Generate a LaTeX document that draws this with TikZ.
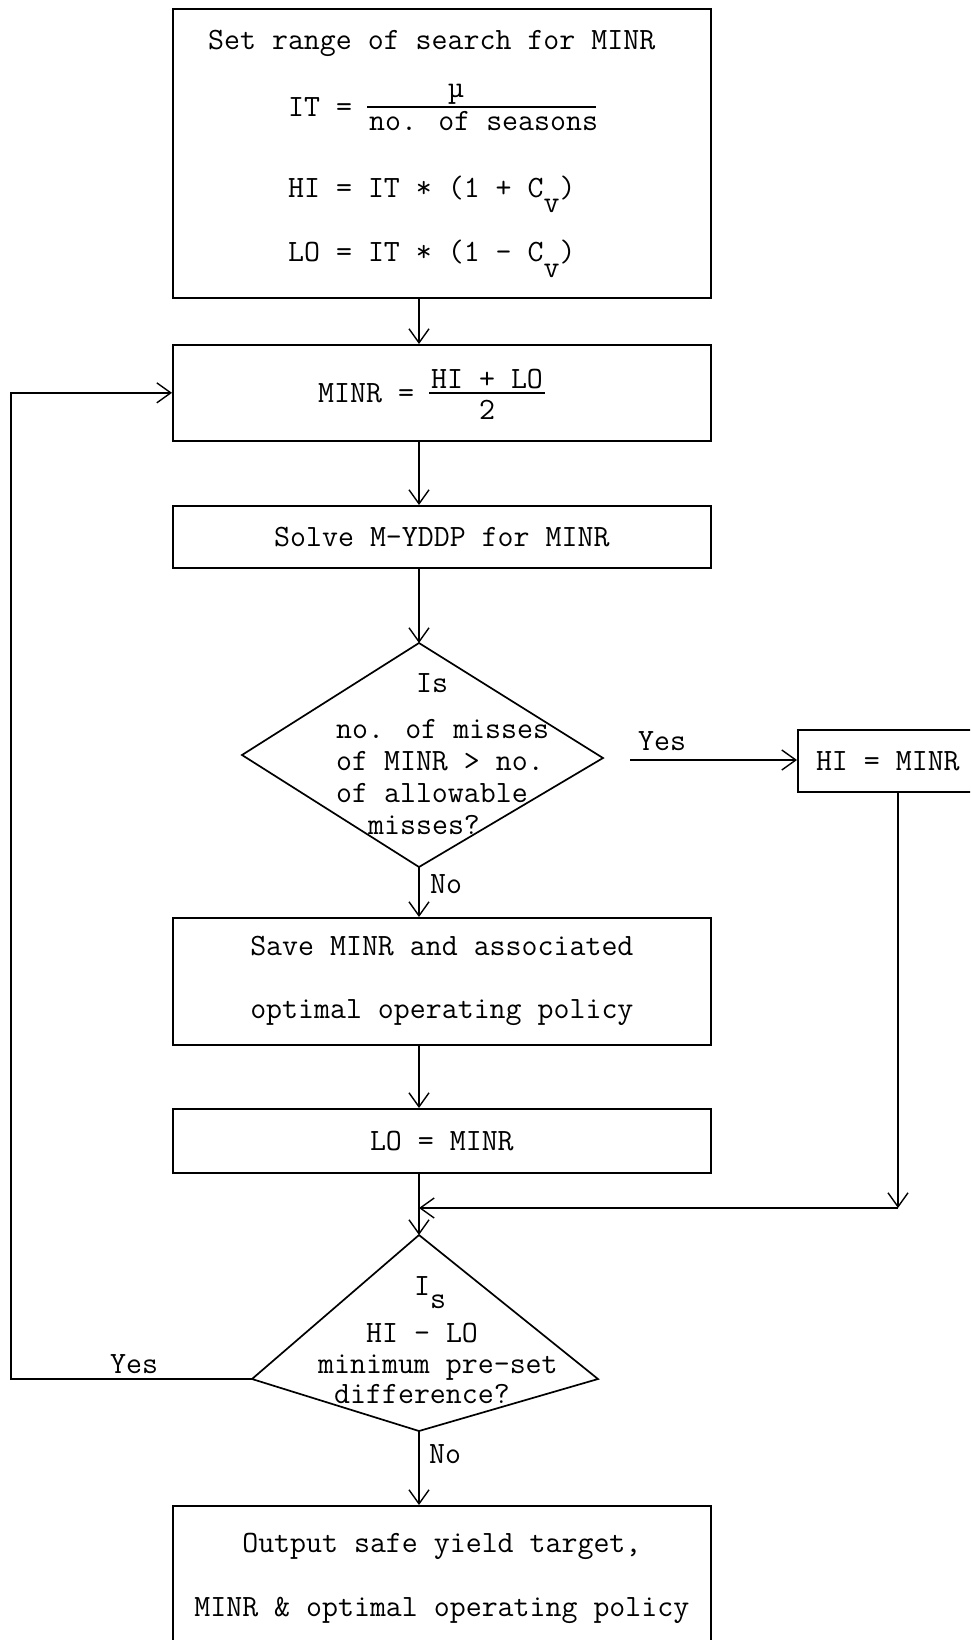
\documentclass[tikz,border=0pt]{standalone}
\usepackage{fontspec}
\usetikzlibrary{arrows.meta}
\newcommand{\tfont}{\ttfamily\fontsize{31}{32}\selectfont\addfontfeatures{FakeBold=1.5}}
\begin{document}
\begin{tikzpicture}[x=1pt,y=-1pt,
  box/.style={draw,line width=1.7pt,anchor=north west,minimum width=538pt,inner sep=0pt,align=center,font=\tfont},
  txt/.style={inner sep=0pt,font=\tfont},
  con/.style={line width=1.4pt},
  arr/.style={con,-{Straight Barb[length=14pt,width=20pt,line width=1.4pt]}},
  outline/.style={line width=1.7pt,line join=miter},
  fracbar/.style={line width=1.5pt}
]
\useasboundingbox (0,0) rectangle (970,1640);
\clip (0,0) rectangle (970,1640);
\coordinate (cx) at (419,0);

% top box
\node[box,minimum height=289pt] (setbox) at (172,8) {};
\node[txt,anchor=base west] (t1) at (208,50) {Set range of search for MINR};
\node[txt,anchor=base west] (t2) at (288,117) {IT =};
\node[txt,anchor=base] (t3) at (456,98) {\char"00B5};
\draw[fracbar] (367,107) -- (596,107);
\node[txt,anchor=base west] (t4) at (369,131) {no. of seasons};
\node[txt,anchor=base west] (t5) at (288,197) {HI = IT * (1 + C\raisebox{-15pt}{v})};
\node[txt,anchor=base west] (t6) at (288,261) {LO = IT * (1 - C\raisebox{-16pt}{v})};

% MINR box
\node[box,minimum height=96pt] (minrbox) at (172,344) {};
\node[txt,anchor=base west] (m1) at (318,402) {MINR =};
\node[txt,anchor=base west] (m2) at (431,388) {HI + LO};
\node[txt,anchor=base] (m3) at (487,419) {2};
\draw[fracbar] (429,393) -- (545,393);

% solve box
\node[box,minimum height=62pt] (solvebox) at (172,505) {Solve M-YDDP for MINR};

% decision 1
\coordinate (d1t) at (419,643);
\coordinate (d1r) at (603,758);
\coordinate (d1b) at (419,867);
\coordinate (d1l) at (242,755);
\draw[outline] (d1t) -- (d1r) -- (d1b) -- (d1l) -- cycle;
\node[txt,anchor=base west] (q1) at (416,692) {Is};
\node[txt,anchor=base west] (q2) at (336,738) {no. of misses};
\node[txt,anchor=base west] (q3) at (336,770) {of MINR > no.};
\node[txt,anchor=base west] (q4) at (336,802) {of allowable};
\node[txt,anchor=base west] (q5) at (368,834) {misses?};

% HI box
\node[box,minimum width=180pt,minimum height=62pt] (hibox) at (797,729) {HI = MINR};
\node[txt,anchor=base west] (y1) at (638,750) {Yes};
\coordinate (ys) at (630,760);
\draw[arr] (ys) -- (hibox.west |- ys);

\node[txt,anchor=base west] (n1) at (430,893) {No};

% save box
\node[box,minimum height=127pt] (savebox) at (172,917) {Save MINR and associated\\[31pt]optimal operating policy};

% LO box
\node[box,minimum height=64pt] (lobox) at (172,1108) {LO = MINR};

% decision 2
\coordinate (d2t) at (419,1235);
\coordinate (d2r) at (598,1379);
\coordinate (d2b) at (419,1431);
\coordinate (d2l) at (252,1379);
\draw[outline] (d2t) -- (d2r) -- (d2b) -- (d2l) -- cycle;
\node[txt,anchor=base west] (r1) at (414,1295) {I\raisebox{-13pt}{s}};
\node[txt,anchor=base west] (r2) at (366,1342) {HI - LO};
\node[txt,anchor=base west] (r3) at (318,1373) {minimum pre-set};
\node[txt,anchor=base west] (r4) at (334,1403) {difference?};

\node[txt,anchor=base west] (y2) at (110,1373) {Yes};
\node[txt,anchor=base west] (n2) at (429,1463) {No};

% output box
\node[box,minimum height=145pt] (outbox) at (172,1505) {Output safe yield target,\\[32pt]MINR \& optimal operating policy};

% connectors
\draw[arr] (setbox.south -| cx) -- (minrbox.north -| cx);
\draw[arr] (minrbox.south -| cx) -- (solvebox.north -| cx);
\draw[arr] (solvebox.south -| cx) -- (d1t);
\draw[arr] (d1b) -- (savebox.north -| cx);
\draw[arr] (savebox.south -| cx) -- (lobox.north -| cx);
\draw[arr] (lobox.south -| cx) -- (d2t);
\coordinate (jn) at (419,1208);
\coordinate (cr) at (898,1208);
\draw[arr] (hibox.south -| cr) -- (cr);
\draw[arr] (cr) -- (jn);
\coordinate (lp) at (11,1379);
\draw[arr] (d2l) -- (lp) |- (minrbox.west);
\draw[arr] (d2b) -- (outbox.north -| cx);
\end{tikzpicture}
\end{document}
